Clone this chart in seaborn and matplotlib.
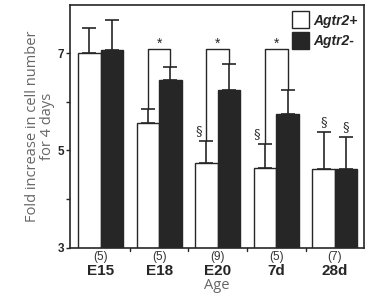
import numpy as np
import pandas as pd
import matplotlib.pyplot as plt
import matplotlib.transforms as mtransforms
import seaborn as sns

ages = ['E15', 'E18', 'E20', '7d', '28d']
n_counts = ['(5)', '(5)', '(9)', '(5)', '(7)']
plus_mean = [7.00, 5.57, 4.74, 4.63, 4.62]
plus_err = [0.51, 0.29, 0.46, 0.49, 0.75]
minus_mean = [7.06, 6.45, 6.25, 5.75, 4.62]
minus_err = [0.62, 0.27, 0.53, 0.49, 0.66]
significant = [False, True, True, True, False]
plus_section = [False, False, True, True, True]
minus_section = [False, False, False, False, True]

df = pd.DataFrame({
    'age': ages * 2,
    'genotype': ['Agtr2+'] * 5 + ['Agtr2-'] * 5,
    'fold': plus_mean + minus_mean,
})

sns.set_style('ticks')
plt.rcParams['font.family'] = ['Liberation Sans', 'DejaVu Sans']

fig, ax = plt.subplots(figsize=(3.66, 3.0), dpi=100)
fig.subplots_adjust(left=0.19, right=0.995, top=0.985, bottom=0.175)

sns.barplot(data=df, x='age', y='fold', hue='genotype', order=ages,
            hue_order=['Agtr2+', 'Agtr2-'],
            palette={'Agtr2+': 'white', 'Agtr2-': '#262626'},
            edgecolor='#262626', linewidth=1.0, width=0.77, ax=ax)

bars = ax.patches[:10]
plus_bars = bars[:5]
minus_bars = bars[5:]
px = [b.get_x() + b.get_width() / 2 for b in plus_bars]
mx = [b.get_x() + b.get_width() / 2 for b in minus_bars]

ax.errorbar(px, plus_mean, yerr=[np.zeros(5), plus_err], fmt='none',
            ecolor='#262626', elinewidth=1.2, capsize=5, capthick=1.2)
ax.errorbar(mx, minus_mean, yerr=[np.zeros(5), minus_err], fmt='none',
            ecolor='#262626', elinewidth=1.2, capsize=5, capthick=1.2)

bracket_y = 7.08
for i in range(5):
    if significant[i]:
        ax.plot([px[i], px[i], mx[i], mx[i]],
                [plus_mean[i] + plus_err[i], bracket_y, bracket_y,
                 minus_mean[i] + minus_err[i]],
                color='#262626', lw=1.0)
        ax.text((px[i] + mx[i]) / 2, bracket_y - 0.04, '*', ha='center',
                va='bottom', fontsize=10, color='#262626')
    if plus_section[i]:
        ax.text(px[i] - 0.08 if i < 4 else px[i], plus_mean[i] + plus_err[i] + 0.06,
                '§', ha='center' if i == 4 else 'right', va='bottom',
                fontsize=9.5, color='#262626', family=['DejaVu Serif'])
    if minus_section[i]:
        ax.text(mx[i], minus_mean[i] + minus_err[i] + 0.06, '§',
                ha='center', va='bottom', fontsize=9.5, color='#262626',
                family=['DejaVu Serif'])

ax.set_ylim(3, 8)
ax.set_xlim(-0.53, 4.5)
ax.set_yticks([3, 5, 7])
ax.set_yticks([4, 6], minor=True)
ax.set_yticklabels(['3', '5', '7'], fontweight='bold', fontsize=8.5)
ax.tick_params(axis='y', which='both', length=3, width=1, pad=1)

ax.set_xticks(np.arange(len(ages)))
ax.set_xticklabels(ages, fontweight='bold', fontsize=11)
ax.tick_params(axis='x', length=0, pad=12)
trans = mtransforms.blended_transform_factory(ax.transData, ax.transAxes)
for i, n in enumerate(n_counts):
    ax.text(i, -0.015, n, transform=trans, ha='center', va='top', fontsize=8.5,
            color='#333333')
for b in [0.5, 1.5, 2.5, 3.5]:
    ax.plot([b, b], [0, -0.015], transform=trans, color='#262626', lw=1,
            clip_on=False)

for side in ['top', 'right', 'left', 'bottom']:
    ax.spines[side].set_visible(True)
    ax.spines[side].set_color('#262626')
    ax.spines[side].set_linewidth(1.2)

ax.set_ylabel('Fold increase in cell number\nfor 4 days', fontsize=10.5,
              color='#666666', family=['Open Sans', 'DejaVu Sans'],
              linespacing=0.95, labelpad=2)
ax.set_xlabel('Age', fontsize=10.5, color='#666666',
              family=['Open Sans', 'DejaVu Sans'], labelpad=0)

leg = ax.legend(loc='upper right', frameon=False, fontsize=10, handlelength=1.2,
                handleheight=1.5, borderaxespad=0.1, labelspacing=0.25,
                handletextpad=0.3)
for t in leg.get_texts():
    t.set_fontweight('bold')
    t.set_fontstyle('italic')

plt.savefig('out.png', dpi=100)
